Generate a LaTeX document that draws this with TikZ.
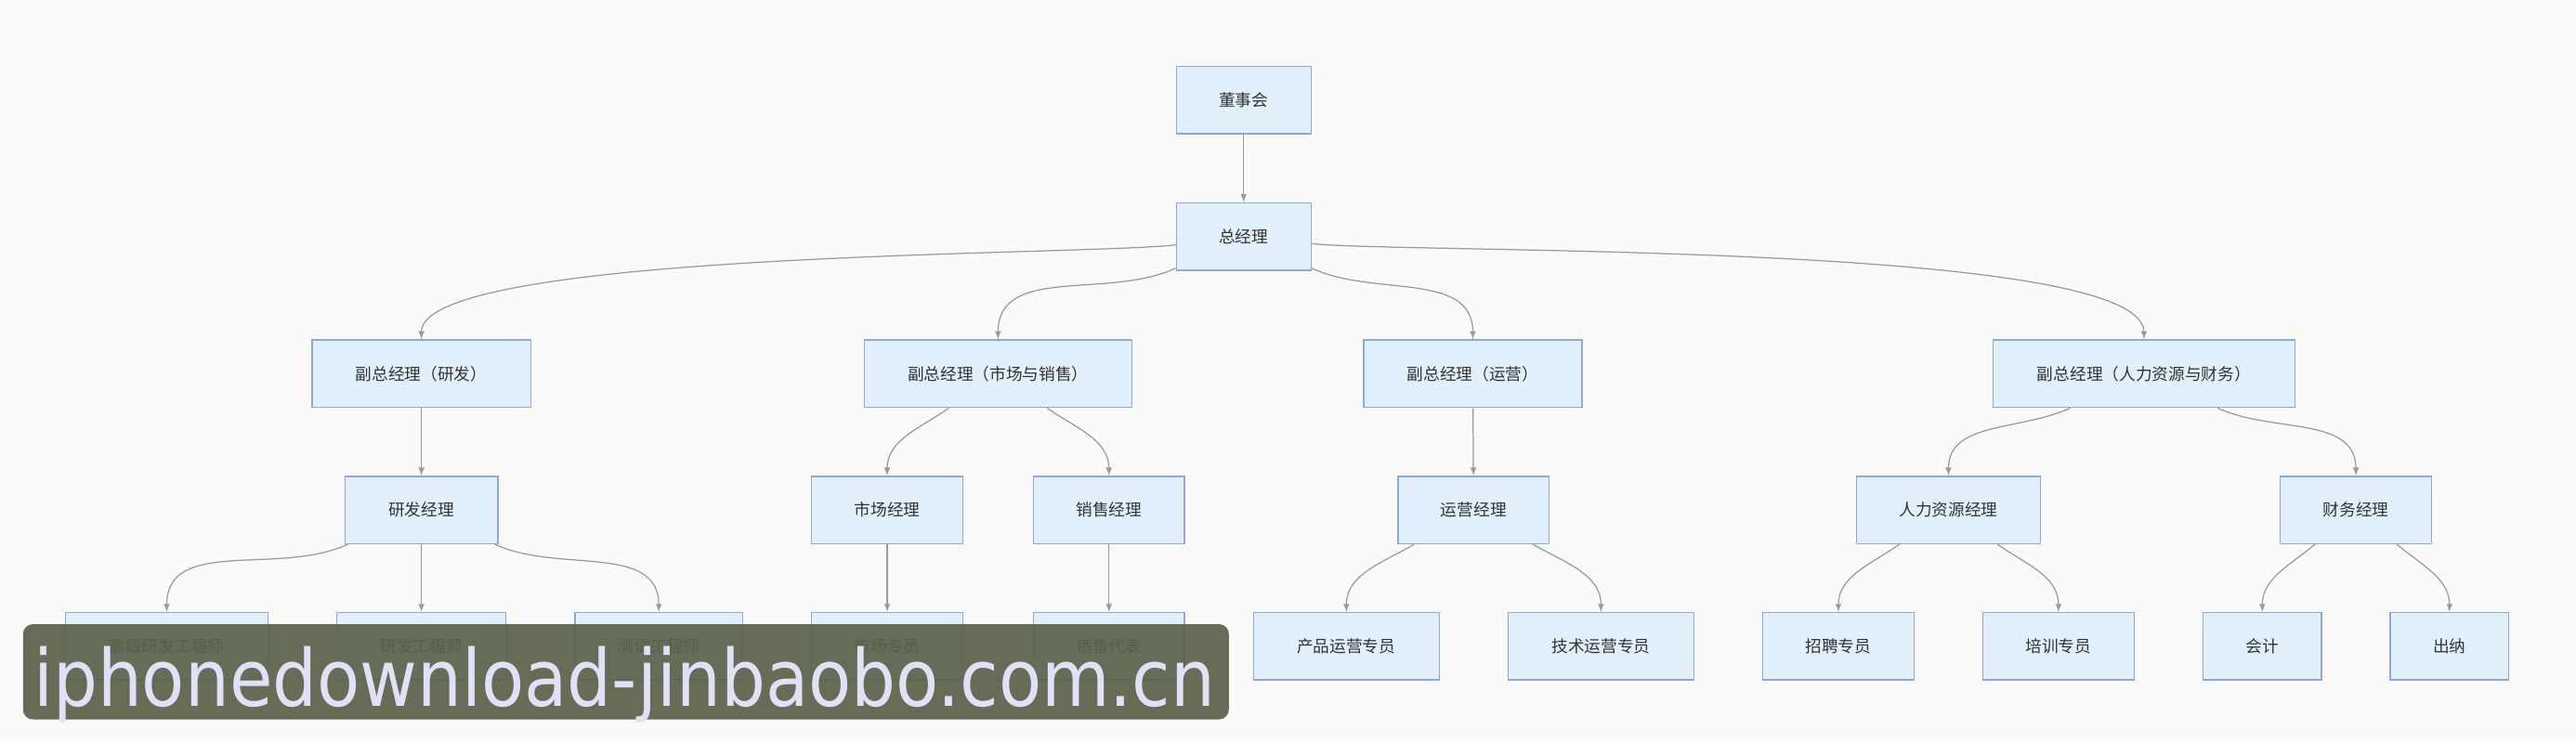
\documentclass[tikz,border=0pt]{standalone}
\usepackage{fontspec}
\setmainfont{Noto Sans CJK SC}
\newfontfamily\markfont{DejaVu Sans}
\usetikzlibrary{arrows,positioning}
\definecolor{bgcol}{HTML}{FAFBF8}
\definecolor{boxfill}{HTML}{E1F0FB}
\definecolor{boxline}{HTML}{8FA8D6}
\definecolor{linecol}{HTML}{9A9A9A}
\definecolor{markfill}{HTML}{5C624B}
\definecolor{marktext}{HTML}{E2E0F6}
\begin{document}
\begin{tikzpicture}[x=1pt,y=1pt]
%% box styles
\tikzstyle{unit}=[rectangle,fill=boxfill,draw=boxline,line width=0.8pt,minimum height=41pt,inner sep=0pt,font=\fontsize{10}{12}\selectfont,text=black!80]
\tikzstyle{link}=[->,>=latex,draw=linecol,line width=0.7pt]
\fill[bgcol] (0,0) rectangle (1568,452);
\useasboundingbox (0,0) rectangle (1568,452);
%%%%%%%%%%%%%%%%%%%%%%%%%%%%%%%%%%%%%%%%%%%%%%%%%%%%%%%%%%%%%%%%%%%%%%%%
%top
\node[unit,minimum width=82pt] (board) at (757,391) {董事会};
\node[unit,minimum width=82pt] (gm) at (757,308) {总经理};
%vice
\node[unit,minimum width=133pt] (vprd) at (256.5,224.5) {副总经理（研发）};
\node[unit,minimum width=163pt] (vpms) at (607.5,224.5) {副总经理（市场与销售）};
\node[unit,minimum width=133pt] (vpop) at (896.5,224.5) {副总经理（运营）};
\node[unit,minimum width=184pt] (vphf) at (1305,224.5) {副总经理（人力资源与财务）};
%managers
\node[unit,minimum width=93pt] (rdm) at (256.5,141.5) {研发经理};
\node[unit,minimum width=92pt] (mkm) at (540,141.5) {市场经理};
\node[unit,minimum width=92pt] (slm) at (675,141.5) {销售经理};
\node[unit,minimum width=92pt] (opm) at (897,141.5) {运营经理};
\node[unit,minimum width=112pt] (hrm) at (1186,141.5) {人力资源经理};
\node[unit,minimum width=92pt] (fim) at (1434,141.5) {财务经理};
%staff
\node[unit,minimum width=123pt] (srd) at (101.5,58.5) {高级研发工程师};
\node[unit,minimum width=103pt] (rde) at (256.5,58.5) {研发工程师};
\node[unit,minimum width=102pt] (tst) at (401,58.5) {测试工程师};
\node[unit,minimum width=92pt] (mks) at (540,58.5) {市场专员};
\node[unit,minimum width=92pt] (slr) at (675,58.5) {销售代表};
\node[unit,minimum width=113pt] (pos) at (819.5,58.5) {产品运营专员};
\node[unit,minimum width=113pt] (tos) at (974.5,58.5) {技术运营专员};
\node[unit,minimum width=92pt] (rcs) at (1119,58.5) {招聘专员};
\node[unit,minimum width=92pt] (trs) at (1253,58.5) {培训专员};
\node[unit,minimum width=72pt] (acc) at (1377,58.5) {会计};
\node[unit,minimum width=72pt] (csh) at (1491,58.5) {出纳};

%%%%%%%%%%%%%%%%%%%%%%%%%%%%%%%%%%%%%%%%%%%%%%%%%%%%%%%%%%%%%%
%ARROWS
\draw[link] (board) -- (gm);
% gm->vice
\draw[link] (gm) to[out=187,in=90,looseness=0.3] (vprd.north);
\draw[link] (gm) to[out=205,in=90] (vpms.north);
\draw[link] (gm) to[out=-25,in=90] (vpop.north);
\draw[link] (gm) to[out=-6,in=90,looseness=0.3] (vphf.north);
% vice->managers
\draw[link] (vprd) -- (rdm);
\draw[link] (vpms) to[out=-145,in=90] (mkm.north);
\draw[link] (vpms) to[out=-35,in=90] (slm.north);
\draw[link] (vpop) -- (opm);
\draw[link] (vphf) to[out=-155,in=90] (hrm.north);
\draw[link] (vphf) to[out=-25,in=90] (fim.north);
% managers->staff
\draw[link] (rdm) to[out=205,in=90] (srd.north);
\draw[link] (rdm) -- (rde);
\draw[link] (rdm) to[out=-25,in=90] (tst.north);
\draw[link] (mkm) -- (mks);
\draw[link] (slm) -- (slr);
\draw[link] (opm) to[out=-150,in=90] (pos.north);
\draw[link] (opm) to[out=-30,in=90] (tos.north);
\draw[link] (hrm) to[out=-145,in=90] (rcs.north);
\draw[link] (hrm) to[out=-35,in=90] (trs.north);
\draw[link] (fim) to[out=-140,in=90] (acc.north);
\draw[link] (fim) to[out=-40,in=90] (csh.north);

%%%%%%%%%%%%%%%%%%%%%%%%%%%%%%%%%%%%%%%%%%%%%%%%%%%%%%%%%%%%%%
% WATERMARK
\fill[markfill,opacity=0.93,rounded corners=6pt] (14,14) rectangle (748,72);
\node[text=marktext,font=\markfont\fontsize{48}{48}\selectfont,inner sep=0pt,xscale=0.89,anchor=base] (mark) at (380,22) {iphonedownload-jinbaobo.com.cn};
\end{tikzpicture}
\end{document}
